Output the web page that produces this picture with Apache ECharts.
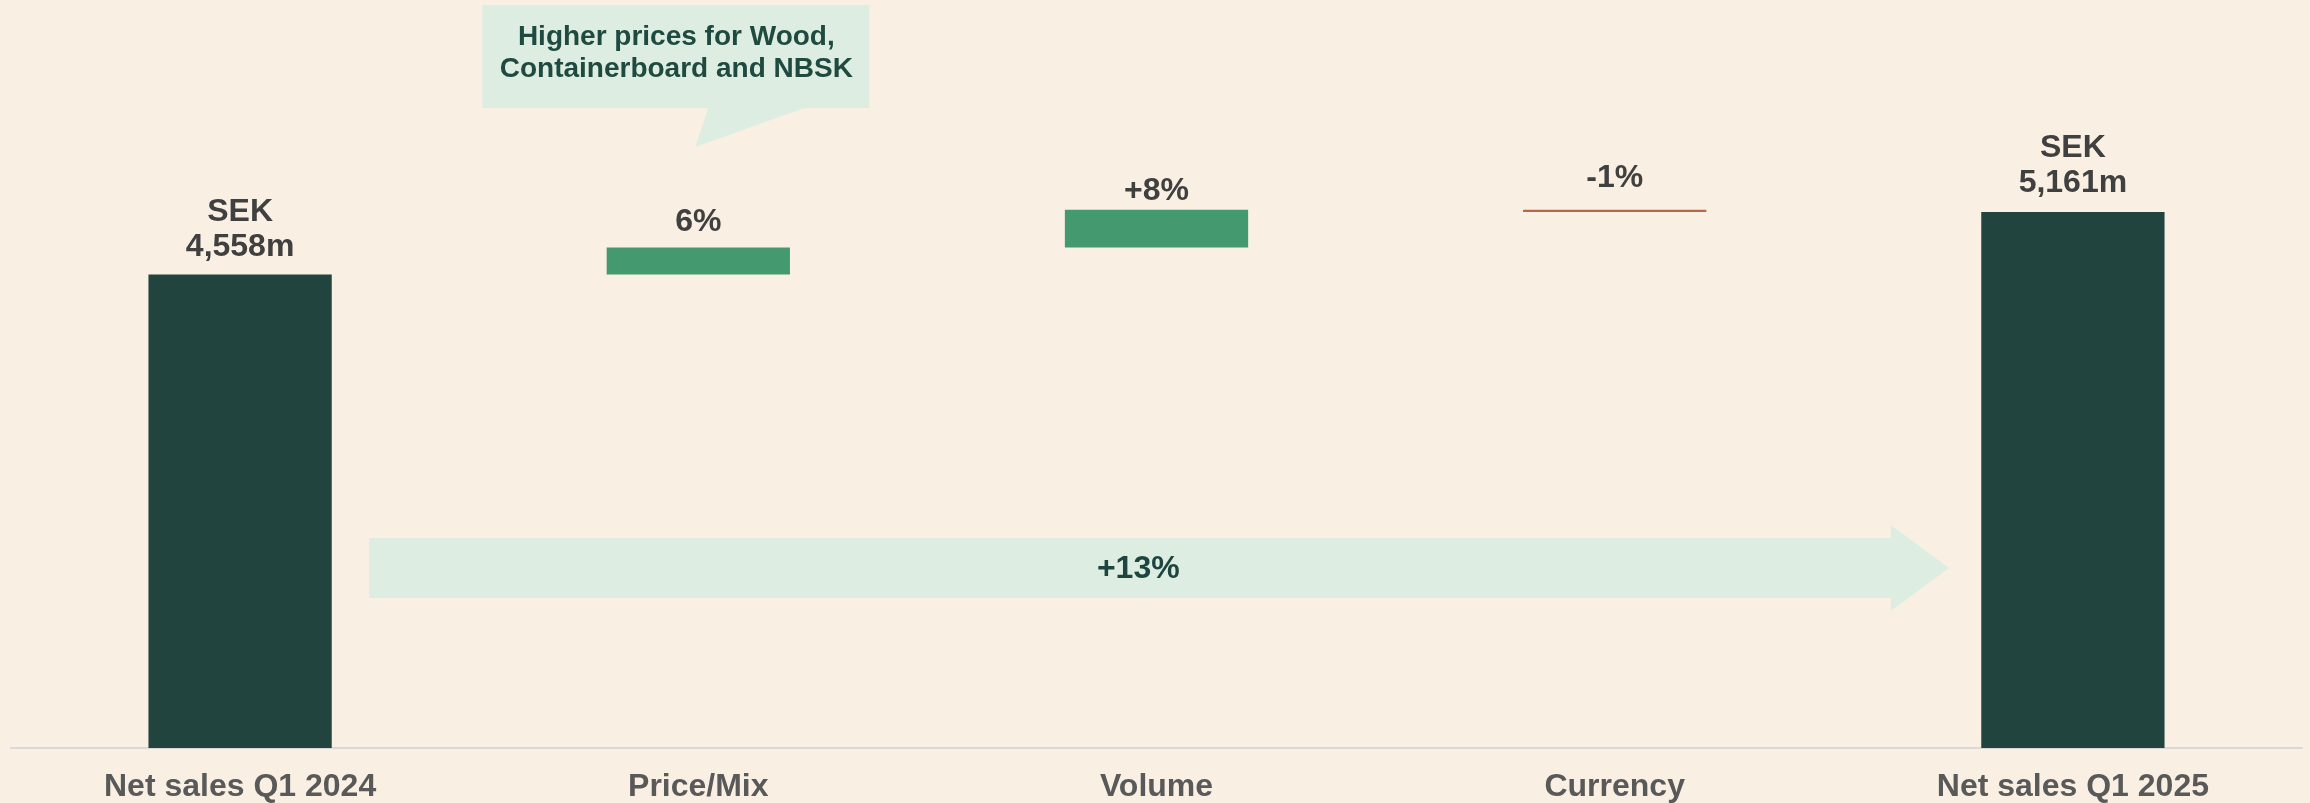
<!DOCTYPE html>
<html>
<head>
<meta charset="utf-8">
<script src="https://cdn.jsdelivr.net/npm/echarts@6/dist/echarts.min.js"></script>
<style>
html,body{margin:0;padding:0;background:#f9f0e3;}
#chart{width:2310px;height:803px;}
</style>
</head>
<body>
<div id="chart"></div>
<script>
// ---- data ----
const categories = ['Net sales Q1 2024', 'Price/Mix', 'Volume', 'Currency', 'Net sales Q1 2025'];
const netSalesStart = 4558;
const netSalesEnd = 5161;
const changes = [260, 365, -22];           // Price/Mix, Volume, Currency (SEK m)
const changeLabels = ['6%', '+8%', '-1%'];
const totalLabels = ['SEK\n4,558m', 'SEK\n5,161m'];
const totalChangeLabel = '+13%';
const calloutText = 'Higher prices for Wood,\nContainerboard and NBSK';

// ---- styles ----
const FONT = 'Liberation Sans, Arial, sans-serif';
const C_DARK = '#21443f', C_UP = '#449a6e', C_DOWN = '#b5694a', C_LIGHT = '#ddede2';
const labelDist = [10, 8, 1, 14, 11];

// ---- build waterfall ----
const bases = [0], heights = [netSalesStart], colors = [C_DARK], labels = [totalLabels[0]];
let running = netSalesStart;
changes.forEach((ch, i) => {
  if (ch >= 0) { bases.push(running); heights.push(ch); colors.push(C_UP); }
  else { bases.push(running + ch); heights.push(-ch); colors.push(C_DOWN); }
  labels.push(changeLabels[i]);
  running += ch;
});
bases.push(0); heights.push(netSalesEnd); colors.push(C_DARK); labels.push(totalLabels[1]);

const chart = echarts.init(document.getElementById('chart'));
chart.setOption({
  backgroundColor: '#f9f0e3',
  animation: false,
  grid: { left: 11, right: 8, top: 21, bottom: 54, containLabel: false },
  xAxis: {
    type: 'category',
    data: categories,
    axisLine: { lineStyle: { color: '#d9d9d9', width: 2 } },
    axisTick: { show: false },
    axisLabel: { color: '#595959', fontSize: 32, fontWeight: 'bold', fontFamily: FONT, margin: 23, interval: 0 }
  },
  yAxis: { type: 'value', min: 0, max: 7000, show: false, splitLine: { show: false } },
  series: [
    {
      type: 'bar', stack: 'w', barWidth: '40%', silent: true,
      itemStyle: { color: 'transparent' },
      data: bases
    },
    {
      type: 'bar', stack: 'w', barWidth: '40%',
      data: heights.map((v, i) => ({
        value: v,
        itemStyle: { color: colors[i] },
        label: {
          show: true, position: 'top', distance: labelDist[i],
          formatter: labels[i], color: '#404040', fontSize: 32, fontWeight: 'bold',
          fontFamily: FONT, lineHeight: 35, align: 'center'
        }
      }))
    }
  ]
});

// ---- annotations anchored to axes ----
const px = i => chart.convertToPixel({ xAxisIndex: 0 }, i);
const y0 = chart.convertToPixel({ yAxisIndex: 0 }, 0);
const xa = px(0), xb = px(1), xe = px(4);
const arrowLeft = xa + 129, arrowTip = xe - 124, bodyRight = arrowTip - 58;
const ac = y0 - 180;
chart.setOption({
  graphic: [
    {
      type: 'polygon', z: 1,
      shape: { points: [[arrowLeft, ac - 30], [bodyRight, ac - 30], [bodyRight, ac - 43], [arrowTip, ac], [bodyRight, ac + 43], [bodyRight, ac + 30], [arrowLeft, ac + 30]] },
      style: { fill: C_LIGHT }
    },
    {
      type: 'text', z: 2, x: xb + 440, y: ac + 1,
      style: { text: totalChangeLabel, fill: '#1f4540', font: 'bold 32px ' + FONT, textAlign: 'center', textVerticalAlign: 'middle' }
    },
    {
      type: 'polygon', z: 1,
      shape: { points: [[xb - 216, 5], [xb + 171, 5], [xb + 171, 108], [xb + 106, 108], [xb - 3, 147], [xb + 10, 108], [xb - 216, 108]] },
      style: { fill: C_LIGHT }
    },
    {
      type: 'text', z: 2, x: xb - 22, y: 53,
      style: { text: calloutText, fill: '#1f4a40', font: 'bold 28px ' + FONT, lineHeight: 32, textAlign: 'center', textVerticalAlign: 'middle' }
    }
  ]
});
</script>
</body>
</html>
